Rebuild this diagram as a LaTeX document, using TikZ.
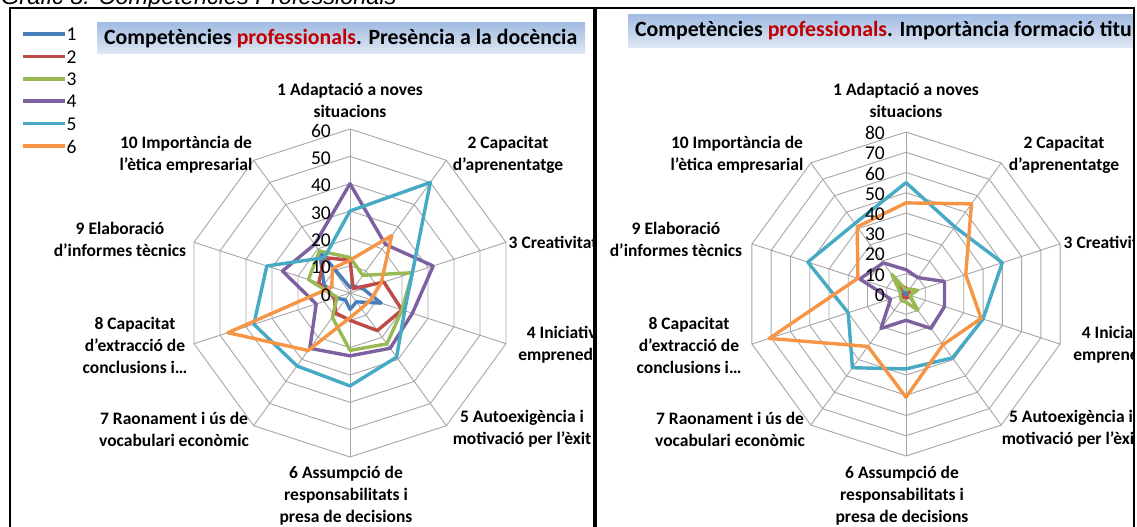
\documentclass[tikz,border=0pt]{standalone}
\usepackage{fontspec}
\setmainfont{Carlito}
\newfontfamily\arialfont{Liberation Sans}
\usetikzlibrary{calc}
\definecolor{sA}{HTML}{4A7EBB}
\definecolor{sB}{HTML}{BE4B48}
\definecolor{sC}{HTML}{98B954}
\definecolor{sD}{HTML}{7D60A0}
\definecolor{sE}{HTML}{46AAC5}
\definecolor{sF}{HTML}{F69546}
\definecolor{gridc}{HTML}{A6A6A6}
\definecolor{tred}{HTML}{C00000}
\definecolor{ttop}{HTML}{A3BCE3}
\definecolor{tbot}{HTML}{E0E8F4}
\newcommand\radarseries[4]{%
  \foreach \v [count=\k] in {#4} {\coordinate (rp\k) at ($(#1)+({36*(\k-1)-90}:{\v*#2})$);}
  \draw[#3] (rp1) -- (rp2) -- (rp3) -- (rp4) -- (rp5) -- (rp6) -- (rp7) -- (rp8) -- (rp9) -- (rp10) -- cycle;
}
\tikzset{
  gridline/.style={draw=gridc, line width=0.9pt},
  serA/.style={draw=sA, line width=3.4pt, line join=round},
  serB/.style={draw=sB, line width=3.4pt, line join=round},
  serC/.style={draw=sC, line width=3.4pt, line join=round},
  serD/.style={draw=sD, line width=3.4pt, line join=round},
  serE/.style={draw=sE, line width=3.4pt, line join=round},
  serF/.style={draw=sF, line width=3.4pt, line join=round},
  lab/.style={font=\bfseries\fontsize{17.5}{22}\selectfont, align=center, inner sep=0pt},
  num/.style={font=\fontsize{19.5}{20}\selectfont, inner sep=0pt, anchor=east},
  legtxt/.style={font=\fontsize{19.5}{20}\selectfont, inner sep=0pt, anchor=west},
  ttl/.style={font=\bfseries\fontsize{21.8}{24}\selectfont, inner sep=0pt, anchor=west},
  frame/.style={draw=black, line width=2.5pt},
  titlebox/.style={top color=ttop, bottom color=tbot, draw=none}
}
\begin{document}
\begin{tikzpicture}[x=1pt,y=-1pt]
\useasboundingbox (0,0) rectangle (1137,527);
\clip (0,0) rectangle (1137,527);
\fill[white] (0,0) rectangle (1137,527);
% top caption (cut)
\node[anchor=base west, inner sep=0pt, font=\arialfont\itshape\fontsize{23.5}{28}\selectfont] (cap) at (1,5) {Gràfic 8. Competències Professionals};
% ---------------- left panel
\begin{scope}
\clip (10,8) rectangle (595,527);
\coordinate (cL) at (350,293);
\foreach \r in {10,20,...,60} {\radarseries{cL}{2.733}{gridline}{\r,\r,\r,\r,\r,\r,\r,\r,\r,\r}}
\foreach \k in {0,...,9} {\draw[gridline] (cL) -- ($(cL)+({36*\k-90}:164)$);}
\radarseries{cL}{2.733}{serA}{2,3,5,12,4,6,3,6,10,19}
\radarseries{cL}{2.733}{serB}{12,2,13,20,17,10,9,6,12,16}
\radarseries{cL}{2.733}{serC}{13,8,24,20,23,21,11,5,16,19}
\radarseries{cL}{2.733}{serD}{40,22,32,24,25,23,25,13,26,22}
\radarseries{cL}{2.733}{serE}{30,50,24,21,29,34,33,37,32,16}
\radarseries{cL}{2.733}{serF}{12,26,12,8,7,9,26,47,7,11}
\foreach \n in {0,10,...,60} {\node[num] at ($(cL)+(-19,{2-\n*2.733})$) {\n};}
\node[lab] (l1) at (350,100) {1 Adaptació a noves\\situacions};
\node[lab] (l2) at (508,155) {2 Capacitat\\d’aprenentatge};
\node[lab] (l3) at (553,242) {3 Creativitat};
\node[lab] (l4) at (570,344.5) {4 Iniciativa i\\emprenedoria};
\node[lab] (l5) at (522,429) {5 Autoexigència i\\motivació per l’èxit};
\node[lab] (l6) at (346,496) {6 Assumpció de\\responsabilitats i\\presa de decisions};
\node[lab] (l7) at (174,429.5) {7 Raonament i ús de\\vocabulari econòmic};
\node[lab] (l8) at (135,345.5) {8 Capacitat\\d’extracció de\\conclusions i…};
\node[lab] (l9) at (120,239) {9 Elaboració\\d’informes tècnics};
\node[lab] (l10) at (186,155) {10 Importància de\\l’ètica empresarial};
% title
\fill[titlebox] (97,23) rectangle (585,54);
\node[ttl] (tl) at (104,38.5) {Competències \textcolor{tred}{professionals}. Presència a la docència};
% legend
\foreach \i/\c in {1/sA,2/sB,3/sC,4/sD,5/sE,6/sF} {
  \coordinate (la\i) at (23,{34+(\i-1)*22.4});
  \coordinate (lb\i) at (65,{34+(\i-1)*22.4});
  \draw[draw=\c, line width=3.5pt] (la\i) -- (lb\i);
  \node[legtxt] (lt\i) at ($(lb\i)+(1.5,0.5)$) {\i};
}
\end{scope}
% ---------------- right panel
\begin{scope}
\clip (594,8) rectangle (1133,527);
\coordinate (cR) at (906,294);
\foreach \r in {10,20,...,80} {\radarseries{cR}{2.025}{gridline}{\r,\r,\r,\r,\r,\r,\r,\r,\r,\r}}
\foreach \k in {0,...,9} {\draw[gridline] (cR) -- ($(cR)+({36*\k-90}:162)$);}
\radarseries{cR}{2.025}{serA}{1,1,1,1,1,1,1,1,1,2}
\radarseries{cR}{2.025}{serB}{3,2,2,2,2,2,2,2,3,5}
\radarseries{cR}{2.025}{serC}{2,3,6,2,10,4,4,3,3,12}
\radarseries{cR}{2.025}{serD}{12,10,20,20,21,13,21,8,24,19}
\radarseries{cR}{2.025}{serE}{55,41,50,40,39,37,45,30,51,43}
\radarseries{cR}{2.025}{serF}{45,55,31,39,31,51,32,71,25,41}
\foreach \n in {0,10,...,80} {\node[num] at ($(cR)+(-21,{1-\n*2.025})$) {\n};}
\node[lab] (r1) at (906,100) {1 Adaptació a noves\\situacions};
\node[lab] (r2) at (1064,155) {2 Capacitat\\d’aprenentatge};
\node[lab] (r3) at (1108,242) {3 Creativitat};
\node[lab] (r4) at (1125,344.5) {4 Iniciativa i\\emprenedoria};
\node[lab] (r5) at (1071,429) {5 Autoexigència i\\motivació per l’èxit};
\node[lab] (r6) at (902,496) {6 Assumpció de\\responsabilitats i\\presa de decisions};
\node[lab] (r7) at (730,429.5) {7 Raonament i ús de\\vocabulari econòmic};
\node[lab] (r8) at (689,345.5) {8 Capacitat\\d’extracció de\\conclusions i…};
\node[lab] (r9) at (676,239) {9 Elaboració\\d’informes tècnics};
\node[lab] (r10) at (737,155) {10 Importància de\\l’ètica empresarial};
\fill[titlebox] (628,15) rectangle (1140,48);
\node[ttl] (tr) at (635,31) {Competències \textcolor{tred}{professionals}. Importància formació titulació};
\end{scope}
% frames
\draw[frame] (10,8) rectangle (596,540);
\draw[frame] (594,8) rectangle (1134,540);
\end{tikzpicture}
\end{document}
